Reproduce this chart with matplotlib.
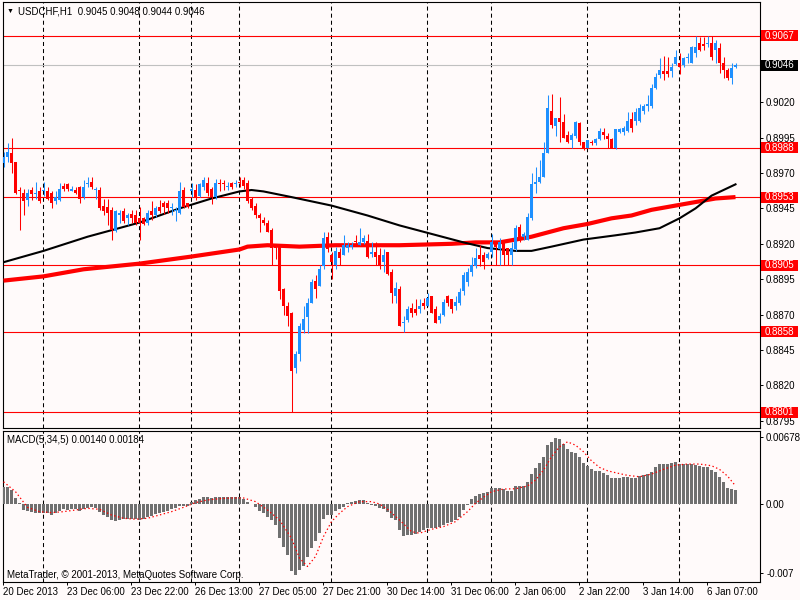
import numpy as np
import matplotlib
matplotlib.use("Agg")
import matplotlib.pyplot as plt
from matplotlib.patches import Rectangle
from matplotlib.transforms import blended_transform_factory

plt.rcParams['font.family'] = ['Liberation Sans', 'DejaVu Sans']
plt.rcParams['lines.scale_dashes'] = False

# hourly candles USDCHF H1, bar 0 = 20 Dec 2013
opens = [0.8977, 0.8981, 0.8984, 0.8978, 0.8958, 0.8956, 0.8951, 0.8958, 0.8955, 0.8957,
         0.8957, 0.8957, 0.8956, 0.8950, 0.8951, 0.8961, 0.8962, 0.8957, 0.8958, 0.8960,
         0.8953, 0.8962, 0.8964, 0.8958, 0.8958, 0.8947, 0.8946, 0.8944, 0.8929, 0.8940,
         0.8943, 0.8938, 0.8941, 0.8940, 0.8938, 0.8938, 0.8935, 0.8943, 0.8940, 0.8946,
         0.8949, 0.8949, 0.8945, 0.8943, 0.8942, 0.8958, 0.8949, 0.8957, 0.8958, 0.8954,
         0.8960, 0.8963, 0.8959, 0.8953, 0.8963, 0.8963, 0.8960, 0.8963, 0.8962, 0.8964,
         0.8965, 0.8963, 0.8952, 0.8947, 0.8940, 0.8937, 0.8935, 0.8930, 0.8919, 0.8919,
         0.8888, 0.8876, 0.8871, 0.8832, 0.8842, 0.8859, 0.8868, 0.8878, 0.8894, 0.8890,
         0.8904, 0.8925, 0.8912, 0.8905, 0.8914, 0.8912, 0.8917, 0.8918, 0.8922, 0.8919,
         0.8921, 0.8922, 0.8913, 0.8914, 0.8912, 0.8907, 0.8914, 0.8900, 0.8883, 0.8888,
         0.8864, 0.8866, 0.8875, 0.8874, 0.8874, 0.8878, 0.8876, 0.8883, 0.8874, 0.8866,
         0.8870, 0.8883, 0.8881, 0.8876, 0.8878, 0.8887, 0.8893, 0.8900, 0.8904, 0.8912,
         0.8912, 0.8910, 0.8914, 0.8921, 0.8916, 0.8921, 0.8917, 0.8912, 0.8916, 0.8932,
         0.8925, 0.8923, 0.8938, 0.8962, 0.8964, 0.8967, 0.8984, 0.9014, 0.9003, 0.9009,
         0.9006, 0.8997, 0.8993, 0.8996, 0.9005, 0.8992, 0.8988, 0.8992, 0.8991, 0.8994,
         0.8999, 0.8996, 0.8994, 0.8988, 0.8999, 0.8999, 0.9000, 0.9008, 0.9007, 0.9007,
         0.9014, 0.9017, 0.9017, 0.9030, 0.9039, 0.9042, 0.9042, 0.9042, 0.9047, 0.9048,
         0.9046, 0.9051, 0.9048, 0.9055, 0.9062, 0.9061, 0.9061, 0.9062, 0.9057, 0.9058,
         0.9048, 0.9043, 0.9037, 0.9045]
highs = [0.8985, 0.8991, 0.8995, 0.8978, 0.8960, 0.8959, 0.8959, 0.8960, 0.8964, 0.8960,
         0.8964, 0.8960, 0.8957, 0.8957, 0.8963, 0.8963, 0.8963, 0.8961, 0.8960, 0.8961,
         0.8965, 0.8967, 0.8967, 0.8960, 0.8960, 0.8952, 0.8952, 0.8946, 0.8944, 0.8944,
         0.8945, 0.8942, 0.8944, 0.8944, 0.8946, 0.8939, 0.8944, 0.8950, 0.8947, 0.8951,
         0.8950, 0.8951, 0.8949, 0.8946, 0.8964, 0.8960, 0.8949, 0.8963, 0.8962, 0.8963,
         0.8967, 0.8967, 0.8960, 0.8966, 0.8966, 0.8965, 0.8964, 0.8964, 0.8965, 0.8967,
         0.8967, 0.8965, 0.8953, 0.8949, 0.8942, 0.8939, 0.8937, 0.8931, 0.8919, 0.8919,
         0.8889, 0.8879, 0.8872, 0.8844, 0.8864, 0.8876, 0.8882, 0.8895, 0.8898, 0.8905,
         0.8928, 0.8928, 0.8914, 0.8918, 0.8917, 0.8926, 0.8921, 0.8921, 0.8926, 0.8931,
         0.8926, 0.8927, 0.8921, 0.8921, 0.8917, 0.8916, 0.8914, 0.8902, 0.8893, 0.8890,
         0.8869, 0.8876, 0.8878, 0.8881, 0.8881, 0.8882, 0.8885, 0.8883, 0.8876, 0.8871,
         0.8881, 0.8884, 0.8881, 0.8883, 0.8889, 0.8900, 0.8903, 0.8911, 0.8917, 0.8919,
         0.8914, 0.8914, 0.8927, 0.8921, 0.8924, 0.8921, 0.8917, 0.8921, 0.8933, 0.8934,
         0.8928, 0.8942, 0.8970, 0.8974, 0.8979, 0.8992, 0.9025, 0.9026, 0.9009, 0.9024,
         0.9012, 0.9000, 0.8998, 0.9007, 0.9006, 0.8992, 0.8993, 0.8993, 0.8995, 0.9002,
         0.9002, 0.8998, 0.8995, 0.9001, 0.9002, 0.9003, 0.9013, 0.9013, 0.9016, 0.9019,
         0.9019, 0.9025, 0.9033, 0.9041, 0.9051, 0.9053, 0.9052, 0.9048, 0.9057, 0.9055,
         0.9052, 0.9055, 0.9060, 0.9067, 0.9066, 0.9066, 0.9067, 0.9067, 0.9064, 0.9062,
         0.9052, 0.9044, 0.9048, 0.9048]
lows = [0.8974, 0.8978, 0.8970, 0.8955, 0.8930, 0.8940, 0.8947, 0.8951, 0.8952, 0.8949,
        0.8954, 0.8951, 0.8945, 0.8948, 0.8950, 0.8957, 0.8957, 0.8957, 0.8955, 0.8949,
        0.8952, 0.8960, 0.8959, 0.8952, 0.8944, 0.8940, 0.8933, 0.8923, 0.8928, 0.8935,
        0.8935, 0.8933, 0.8935, 0.8933, 0.8923, 0.8933, 0.8933, 0.8937, 0.8939, 0.8942,
        0.8941, 0.8942, 0.8940, 0.8936, 0.8941, 0.8945, 0.8945, 0.8953, 0.8951, 0.8953,
        0.8958, 0.8954, 0.8948, 0.8952, 0.8957, 0.8958, 0.8958, 0.8959, 0.8960, 0.8960,
        0.8959, 0.8949, 0.8944, 0.8938, 0.8928, 0.8933, 0.8928, 0.8905, 0.8909, 0.8881,
        0.8870, 0.8862, 0.8801, 0.8829, 0.8837, 0.8857, 0.8857, 0.8878, 0.8882, 0.8890,
        0.8902, 0.8914, 0.8895, 0.8902, 0.8905, 0.8912, 0.8914, 0.8916, 0.8919, 0.8919,
        0.8920, 0.8910, 0.8911, 0.8905, 0.8902, 0.8900, 0.8898, 0.8878, 0.8878, 0.8862,
        0.8858, 0.8865, 0.8868, 0.8870, 0.8871, 0.8874, 0.8876, 0.8871, 0.8864, 0.8864,
        0.8869, 0.8876, 0.8871, 0.8873, 0.8877, 0.8884, 0.8890, 0.8897, 0.8903, 0.8904,
        0.8902, 0.8909, 0.8911, 0.8905, 0.8905, 0.8905, 0.8905, 0.8905, 0.8915, 0.8921,
        0.8923, 0.8923, 0.8937, 0.8956, 0.8963, 0.8967, 0.8984, 0.9002, 0.8996, 0.8992,
        0.8995, 0.8991, 0.8988, 0.8995, 0.8990, 0.8986, 0.8988, 0.8990, 0.8990, 0.8993,
        0.8994, 0.8988, 0.8988, 0.8987, 0.8998, 0.8997, 0.8999, 0.8999, 0.9004, 0.9006,
        0.9012, 0.9014, 0.9016, 0.9029, 0.9037, 0.9036, 0.9038, 0.9038, 0.9046, 0.9040,
        0.9045, 0.9048, 0.9048, 0.9052, 0.9056, 0.9057, 0.9059, 0.9050, 0.9048, 0.9041,
        0.9037, 0.9036, 0.9033, 0.9044]
closes = [0.8981, 0.8985, 0.8977, 0.8956, 0.8957, 0.8950, 0.8956, 0.8955, 0.8956, 0.8950,
          0.8958, 0.8952, 0.8949, 0.8953, 0.8959, 0.8959, 0.8959, 0.8959, 0.8956, 0.8952,
          0.8960, 0.8963, 0.8960, 0.8959, 0.8945, 0.8943, 0.8942, 0.8930, 0.8943, 0.8942,
          0.8936, 0.8940, 0.8938, 0.8935, 0.8935, 0.8934, 0.8942, 0.8940, 0.8945, 0.8943,
          0.8946, 0.8945, 0.8946, 0.8944, 0.8957, 0.8946, 0.8946, 0.8959, 0.8953, 0.8962,
          0.8965, 0.8956, 0.8953, 0.8963, 0.8962, 0.8962, 0.8961, 0.8960, 0.8963, 0.8963,
          0.8961, 0.8950, 0.8945, 0.8940, 0.8938, 0.8935, 0.8928, 0.8917, 0.8917, 0.8887,
          0.8876, 0.8869, 0.8830, 0.8842, 0.8862, 0.8867, 0.8878, 0.8893, 0.8888, 0.8902,
          0.8924, 0.8916, 0.8907, 0.8915, 0.8910, 0.8919, 0.8919, 0.8919, 0.8921, 0.8921,
          0.8924, 0.8911, 0.8914, 0.8911, 0.8905, 0.8912, 0.8899, 0.8885, 0.8889, 0.8862,
          0.8864, 0.8874, 0.8871, 0.8871, 0.8876, 0.8876, 0.8882, 0.8871, 0.8864, 0.8869,
          0.8879, 0.8878, 0.8874, 0.8879, 0.8886, 0.8898, 0.8900, 0.8905, 0.8910, 0.8909,
          0.8907, 0.8913, 0.8921, 0.8918, 0.8921, 0.8912, 0.8912, 0.8917, 0.8931, 0.8925,
          0.8927, 0.8939, 0.8962, 0.8964, 0.8967, 0.8984, 0.9016, 0.9004, 0.9009, 0.9006,
          0.8995, 0.8992, 0.8997, 0.9006, 0.8992, 0.8988, 0.8993, 0.8991, 0.8994, 0.9000,
          0.8997, 0.8994, 0.8988, 0.9001, 0.9001, 0.9002, 0.9007, 0.9002, 0.9013, 0.9016,
          0.9017, 0.9019, 0.9030, 0.9038, 0.9043, 0.9040, 0.9040, 0.9045, 0.9052, 0.9045,
          0.9051, 0.9052, 0.9059, 0.9059, 0.9057, 0.9060, 0.9062, 0.9052, 0.9062, 0.9048,
          0.9043, 0.9037, 0.9044, 0.9046]

# moving averages, read at a few bars
ma_fast_bars = [0, 10, 21, 34, 44, 52, 59, 62, 65, 72, 82, 91, 99, 107, 115, 121, 128,
                132, 137, 145, 153, 158, 164, 169, 173, 177, 180, 183]
ma_fast = [0.8907, 0.8915, 0.8925, 0.8935, 0.8945, 0.8952, 0.8957, 0.8958, 0.8957, 0.8953,
           0.8947, 0.8940, 0.8933, 0.8927, 0.8921, 0.8917, 0.8915, 0.8915, 0.8918, 0.8923,
           0.8926, 0.8928, 0.8931, 0.8938, 0.8945, 0.8954, 0.8958, 0.8962]
ma_slow_bars = [0, 10, 20, 34, 47, 59, 61, 66, 74, 83, 99, 112, 118, 124, 128, 132, 136,
                140, 146, 152, 157, 162, 170, 178, 183]
ma_slow = [0.8894, 0.8897, 0.8902, 0.8906, 0.8911, 0.8916, 0.8918, 0.8919, 0.8918, 0.8919,
           0.8919, 0.8920, 0.8921, 0.8921, 0.8923, 0.8925, 0.8928, 0.8931, 0.8934, 0.8938,
           0.8940, 0.8944, 0.8948, 0.8952, 0.8953]

# MACD(5,34,5)
macd_hist = [0.00176, 0.00176, 0.00142, 0.00057, 0.00014, -0.00061, -0.00068, -0.00078, -0.00088, -0.00095,
             -0.00088, -0.00088, -0.00112, -0.00088, -0.00068, -0.00054, -0.00061, -0.00054, -0.00054, -0.00068,
             -0.00054, -0.00044, -0.00034, -0.00044, -0.00078, -0.00112, -0.00128, -0.00162, -0.00169, -0.00162,
             -0.00155, -0.00155, -0.00155, -0.00155, -0.00162, -0.00155, -0.00135, -0.00122, -0.00101, -0.00088,
             -0.00078, -0.00068, -0.00054, -0.00044, -0.00020, -0.00020, -0.00020, 0.00024, 0.00041, 0.00054,
             0.00074, 0.00068, 0.00057, 0.00068, 0.00068, 0.00068, 0.00068, 0.00068, 0.00068, 0.00068,
             0.00047, 0.00024, 0.00003, -0.00034, -0.00068, -0.00088, -0.00128, -0.00162, -0.00213, -0.00348,
             -0.00433, -0.00517, -0.00686, -0.00720, -0.00669, -0.00635, -0.00541, -0.00450, -0.00372, -0.00291,
             -0.00155, -0.00112, -0.00112, -0.00068, -0.00054, -0.00034, 0.00014, 0.00024, 0.00034, 0.00041,
             0.00041, 0.00007, -0.00010, -0.00020, -0.00044, -0.00054, -0.00078, -0.00145, -0.00162, -0.00264,
             -0.00324, -0.00314, -0.00314, -0.00304, -0.00281, -0.00264, -0.00247, -0.00247, -0.00247, -0.00237,
             -0.00213, -0.00196, -0.00179, -0.00162, -0.00128, -0.00061, -0.00010, 0.00047, 0.00081, 0.00101,
             0.00108, 0.00125, 0.00159, 0.00159, 0.00159, 0.00149, 0.00135, 0.00135, 0.00183, 0.00183,
             0.00183, 0.00226, 0.00304, 0.00362, 0.00419, 0.00480, 0.00598, 0.00632, 0.00666, 0.00656,
             0.00608, 0.00564, 0.00531, 0.00521, 0.00473, 0.00419, 0.00385, 0.00352, 0.00338, 0.00338,
             0.00318, 0.00294, 0.00260, 0.00260, 0.00260, 0.00270, 0.00270, 0.00260, 0.00260, 0.00284,
             0.00294, 0.00304, 0.00328, 0.00379, 0.00406, 0.00406, 0.00406, 0.00412, 0.00429, 0.00406,
             0.00406, 0.00406, 0.00406, 0.00395, 0.00385, 0.00379, 0.00372, 0.00345, 0.00328, 0.00277,
             0.00226, 0.00159, 0.00149, 0.00140]
signal_bars = [0, 3, 6, 9, 12, 15, 18, 21, 24, 27, 30, 33, 36, 39, 42, 45, 48, 51, 54, 57,
               60, 63, 66, 69, 72, 74, 76, 78, 80, 82, 84, 86, 89, 92, 94, 96, 99, 102, 104, 107,
               110, 113, 116, 118, 120, 122, 125, 128, 131, 133, 135, 137, 139, 141, 143, 145, 147, 149, 151, 153,
               156, 159, 162, 165, 168, 171, 174, 177, 179, 181, 183]
signal = [0.00226, 0.00125, -0.00034, -0.00078, -0.00088, -0.00078, -0.00061, -0.00044, -0.00054, -0.00112,
          -0.00145, -0.00155, -0.00145, -0.00112, -0.00078, -0.00034, 0.00014, 0.00041, 0.00054, 0.00061,
          0.00061, 0.00024, -0.00061, -0.00162, -0.00348, -0.00551, -0.00635, -0.00534, -0.00331, -0.00179,
          -0.00095, -0.00027, 0.00024, 0.00024, 0.00000, -0.00054, -0.00162, -0.00281, -0.00297, -0.00257,
          -0.00230, -0.00179, -0.00078, 0.00007, 0.00068, 0.00125, 0.00152, 0.00155, 0.00183, 0.00243,
          0.00345, 0.00480, 0.00581, 0.00632, 0.00598, 0.00531, 0.00439, 0.00372, 0.00338, 0.00318,
          0.00291, 0.00277, 0.00304, 0.00352, 0.00395, 0.00406, 0.00406, 0.00389, 0.00352, 0.00284,
          0.00184]

levels = [0.9067, 0.8988, 0.8953, 0.8905, 0.8858, 0.8801]
bid = 0.9046
price_ticks = [0.9070, 0.9045, 0.9020, 0.8995, 0.8970, 0.8945, 0.8920, 0.8895,
               0.8870, 0.8845, 0.8820, 0.8795]
macd_ticks = [0.00678, 0.0, -0.007]
macd_tick_labels = ['0.00678', '0.00', '-0.007']
day_start_bars = [10, 34, 47, 59, 82, 106, 122, 146, 169]
time_label_bars = [0, 16, 32, 48, 64, 80, 96, 112, 128, 144, 160, 176]
time_labels = ['20 Dec 2013', '23 Dec 06:00', '23 Dec 22:00', '26 Dec 13:00',
               '27 Dec 05:00', '27 Dec 21:00', '30 Dec 14:00', '31 Dec 06:00',
               '2 Jan 06:00', '2 Jan 22:00', '3 Jan 14:00', '6 Jan 07:00']

BG = '#FFFAFA'
BULL = '#1E90FF'
BEAR = '#FF0000'
FS = 7
W, H = 800, 600

fig = plt.figure(figsize=(8, 6), dpi=100, facecolor=BG)


def px_axes(x0, y0, x1, y1):
    return fig.add_axes([x0 / W, 1 - y1 / H, (x1 - x0) / W, (y1 - y0) / H])


ax = px_axes(3, 2, 760, 428)
ax2 = px_axes(3, 431, 760, 582)
for a in (ax, ax2):
    a.set_facecolor(BG)
    a.set_xlim(-0.125, 189.125)
    for s in a.spines.values():
        s.set_color('black')
        s.set_linewidth(0.8)
    for b in day_start_bars:
        a.axvline(b - 0.125, color='black', lw=0.75, dashes=(2.9, 2.2), zorder=1)

ax.set_ylim(0.87899, 0.90908)
ax2.set_ylim(-0.00793, 0.00742)

# price panel
o = np.array(opens)
h = np.array(highs)
l = np.array(lows)
c = np.array(closes)
x = np.arange(len(o))
cols = np.where(c >= o, BULL, BEAR)

for lv in levels:
    ax.axhline(lv, color='red', lw=0.8, zorder=2)
ax.axhline(bid, color='#C0C0C0', lw=0.8, zorder=2)

ax.plot(ma_slow_bars, ma_slow, color='red', lw=3.0, zorder=3, solid_capstyle='butt')
ax.plot(ma_fast_bars, ma_fast, color='black', lw=1.5, zorder=3)

ax.vlines(x, l, h, colors=cols, lw=0.75, zorder=4)
ax.bar(x, np.maximum(np.abs(c - o), 0.00005), bottom=np.minimum(o, c), width=0.72,
       color=cols, linewidth=0, zorder=5)

# scale labels hidden behind the level tags are left blank
covered = [0.9070, 0.9045]
ax.yaxis.tick_right()
ax.set_yticks(price_ticks)
ax.set_yticklabels(['' if v in covered else f'{v:.4f}' for v in price_ticks])
ax.set_xticks([])
ax.tick_params(axis='y', direction='out', length=2.2, width=0.7, pad=2.2, labelsize=FS)

# level tags on the price scale
tr = blended_transform_factory(ax.transAxes, ax.transData)
y0, y1 = ax.get_ylim()
tag_h = 11 * (y1 - y0) / 426
for lv, fc in [(v, 'red') for v in levels] + [(bid, 'black')]:
    ax.add_patch(Rectangle((1 + 1 / 757, lv - tag_h / 2), 37 / 757, tag_h, transform=tr,
                           facecolor=fc, edgecolor='none', clip_on=False, zorder=10))
    ax.text(1 + 4.5 / 757, lv, f'{lv:.4f}', transform=tr, color='white', fontsize=FS,
            va='center', ha='left', clip_on=False, zorder=11)

# MACD panel
ax2.bar(x, macd_hist, width=0.7, color='#707070', linewidth=0, zorder=3)
ax2.plot(signal_bars, signal, color='red', lw=0.9, dashes=(1.0, 1.8), zorder=4)
ax2.yaxis.tick_right()
ax2.set_yticks(macd_ticks)
ax2.set_yticklabels(macd_tick_labels)
ax2.set_xticks([b - 0.125 for b in time_label_bars])
ax2.set_xticklabels(time_labels)
for t in ax2.get_xticklabels():
    t.set_horizontalalignment('left')
ax2.tick_params(axis='y', direction='out', length=2.2, width=0.7, pad=2.2, labelsize=FS)
ax2.tick_params(axis='x', direction='out', length=2.5, width=0.7, pad=1.2, labelsize=FS)

# texts
fig.text(7 / W, 1 - 11 / H, '\u25bc', fontsize=5, va='center', ha='left')
fig.text(18 / W, 1 - 11 / H, 'USDCHF,H1  0.9045 0.9048 0.9044 0.9046', fontsize=FS,
         va='center', ha='left')
fig.text(7 / W, 1 - 440 / H, 'MACD(5,34,5) 0.00140 0.00184', fontsize=FS,
         va='center', ha='left')
fig.text(7 / W, 1 - 575 / H, 'MetaTrader, \u00a9 2001-2013, MetaQuotes Software Corp.',
         fontsize=FS, va='center', ha='left')

fig.savefig('out.png', dpi=100, facecolor=BG)
